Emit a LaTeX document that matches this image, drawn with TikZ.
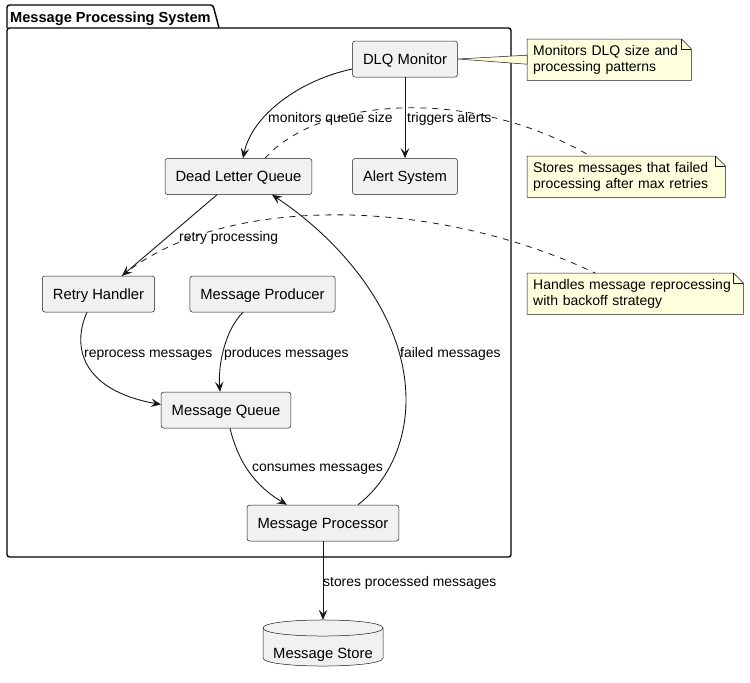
\documentclass[tikz,border=0pt]{standalone}
\usepackage{fontspec}
\setmainfont{Liberation Sans}
\usetikzlibrary{arrows.meta}

\definecolor{boxfill}{HTML}{F1F1F1}
\definecolor{notefill}{HTML}{FEFFDD}
\definecolor{linecol}{HTML}{181818}

% folded corner of a note
\newcommand{\notecorner}[1]{%
  \fill[white] ([xshift=-10pt]#1.north east) -- (#1.north east) -- ([yshift=-10pt]#1.north east) -- cycle;
  \draw[notebord] (#1.south west) -- (#1.north west) -- ([xshift=-10pt]#1.north east) -- ([yshift=-10pt]#1.north east) -- (#1.south east) -- cycle;
  \draw[notebord] ([xshift=-10pt]#1.north east) |- ([yshift=-10pt]#1.north east);}

\begin{document}
\begin{tikzpicture}[x=1pt, y=-1pt,
  comp/.style={draw=linecol, line width=0.5pt, fill=boxfill, rounded corners=2.5pt, inner xsep=10.5pt, minimum height=36pt, text height=10.6pt, text depth=0pt, font=\fontsize{14.8}{17}\selectfont},
  flow/.style={draw=linecol, line width=0.9pt, -{Stealth[length=10pt,width=8.5pt,inset=4pt]}},
  lbl/.style={anchor=base west, inner sep=0pt, font=\fontsize{13.9}{16}\selectfont},
  notenode/.style={fill=notefill, anchor=north west, inner xsep=6pt, inner ysep=0pt, minimum height=41pt, align=left, font=\fontsize{14}{15.5}\selectfont},
  notebord/.style={draw=linecol, line width=0.5pt},
  notelink/.style={draw=linecol, line width=0.8pt, dash pattern=on 6pt off 6pt},
  pkgframe/.style={draw=black, line width=1.4pt, rounded corners=2.5pt}]
\useasboundingbox (0,0) rectangle (750,683);

% define package frame
\draw[pkgframe] (7,28) rectangle (511,557);
\draw[pkgframe] (7,28) -- (7,5) -- (213,5) -- (219,28);
\node[anchor=base west, inner sep=0pt, font=\bfseries\fontsize{14.6}{17}\selectfont] (title) at (10,22) {Message Processing System};

% set up components
\node[comp] (dlqmon) at (405,59) {DLQ Monitor};
\node[comp] (dlq) at (238.5,176.5) {Dead Letter Queue};
\node[comp] (alert) at (405,176.5) {Alert System};
\node[comp] (retry) at (98.5,294) {Retry Handler};
\node[comp] (producer) at (262.5,294) {Message Producer};
\node[comp] (mq) at (226,410) {Message Queue};
\node[comp] (proc) at (323,523) {Message Processor};

% draw database
\node[minimum width=120pt, minimum height=46pt, inner sep=0pt] (store) at (323,643) {};
\filldraw[draw=linecol, line width=0.5pt, fill=boxfill] (263,628) -- (263,658) .. controls (263,668.7) and (383,668.7) .. (383,658) -- (383,628) .. controls (383,617.3) and (263,617.3) .. cycle;
\draw[linecol, line width=0.5pt] (263,628) .. controls (263,638.7) and (383,638.7) .. (383,628);
\node[anchor=base, inner sep=0pt, font=\fontsize{14.8}{17}\selectfont] (storetext) at (323,658) {Message Store};

% draw notes
\node[notenode, text width=152pt] (note1) at (527,39) {Monitors DLQ size and\\processing patterns};
\node[notenode, text width=186pt] (note2) at (527,156) {Stores messages that failed\\processing after max retries};
\node[notenode, text width=204pt] (note3) at (527,273) {Handles message reprocessing\\with backoff strategy};
\foreach \n in {note1,note2,note3}
  \notecorner{\n};
\filldraw[notebord, fill=notefill] (dlqmon.east) -- ([yshift=4.5pt]note1.west) -- ([yshift=-4.5pt]note1.west) -- cycle;
\draw[notelink] ([xshift=26.5pt]dlq.north) .. controls (320,97) and (470,86) .. ([xshift=-36pt]note2.north);
\draw[notelink] ([xshift=23.5pt]retry.north) .. controls (220,195) and (430,195) .. ([xshift=-40pt]note3.north);

% draw connectors
\draw[flow] ([yshift=-10pt]dlqmon.west) .. controls (300,80) and (252,115) .. ([xshift=4.5pt]dlq.north);
\draw[flow] (dlqmon) -- (alert);
\draw[flow] ([xshift=-21.5pt]dlq.south) -- ([xshift=23.5pt]retry.north);
\draw[flow] ([xshift=35pt]proc.north) .. controls (390,480) and (406,440) .. (406,400) .. controls (406,315) and (340,240) .. ([xshift=33.5pt]dlq.south);
\draw[flow] ([xshift=-11.5pt]retry.south) .. controls (72,345) and (80,390) .. ([yshift=5.5pt]mq.west);
\draw[flow] ([xshift=-19.5pt]producer.south) .. controls (225,330) and (218,365) .. ([xshift=-6pt]mq.north);
\draw[flow] ([xshift=4pt]mq.south) .. controls (240,470) and (262,490) .. ([xshift=-36pt]proc.north);
\draw[flow] (proc) -- (store);

% connector labels
\node[lbl] (lmon) at (268,122) {monitors queue size};
\node[lbl] (ltrig) at (407,122) {triggers alerts};
\node[lbl] (lretry) at (179,241) {retry processing};
\node[lbl] (lrepro) at (84,357) {reprocess messages};
\node[lbl] (lprod) at (224,357) {produces messages};
\node[lbl] (lfail) at (400,357) {failed messages};
\node[lbl] (lcons) at (252,471) {consumes messages};
\node[lbl] (lstore) at (323,586) {stores processed messages};

\end{tikzpicture}
\end{document}
